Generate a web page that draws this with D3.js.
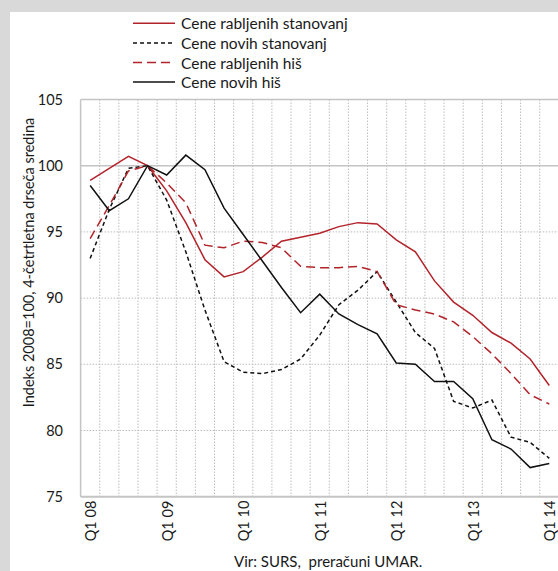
<!DOCTYPE html>
<html>
<head>
<meta charset="utf-8">
<script src="https://cdn.jsdelivr.net/npm/d3@7"></script>
<style>
  html, body { margin: 0; padding: 0; background: #d9d9d9; }
  svg { display: block; }
  text { font-family: Lato, "Open Sans", sans-serif; fill: #1a1a1a; }
</style>
</head>
<body>
<svg id="chart" width="558" height="571"></svg>
<script>
const quarters = [
  "Q1 08","Q2 08","Q3 08","Q4 08",
  "Q1 09","Q2 09","Q3 09","Q4 09",
  "Q1 10","Q2 10","Q3 10","Q4 10",
  "Q1 11","Q2 11","Q3 11","Q4 11",
  "Q1 12","Q2 12","Q3 12","Q4 12",
  "Q1 13","Q2 13","Q3 13","Q4 13",
  "Q1 14"
];
const tickLabels = ["Q1 08","Q1 09","Q1 10","Q1 11","Q1 12","Q1 13","Q1 14"];
const yTicks = [75, 80, 85, 90, 95, 100, 105];

// Cene rabljenih stanovanj (red solid)
const rabljenaStanovanja = [98.9, 99.8, 100.7, 100.0, 98.1, 95.7, 92.9, 91.6, 92.0, 93.1, 94.3, 94.6, 94.9, 95.4, 95.7, 95.6, 94.4, 93.5, 91.3, 89.7, 88.7, 87.4, 86.6, 85.4, 83.4];
// Cene novih stanovanj (black dashed)
const novaStanovanja = [93.0, 96.7, 99.8, 100.0, 97.4, 93.5, 89.1, 85.2, 84.4, 84.3, 84.6, 85.4, 87.2, 89.5, 90.6, 92.0, 89.7, 87.4, 86.2, 82.2, 81.7, 82.3, 79.5, 79.1, 77.9];
// Cene rabljenih hiš (red dashed)
const rabljeneHise = [94.5, 97.0, 99.6, 100.0, 98.7, 97.2, 94.0, 93.8, 94.3, 94.2, 93.8, 92.4, 92.3, 92.3, 92.4, 92.0, 89.5, 89.1, 88.8, 88.2, 87.1, 85.8, 84.3, 82.7, 82.0];
// Cene novih hiš (black solid)
const noveHise = [98.5, 96.6, 97.5, 100.0, 99.3, 100.8, 99.7, 96.8, 94.8, 92.8, 90.8, 88.9, 90.3, 88.8, 88.0, 87.3, 85.1, 85.0, 83.7, 83.7, 82.4, 79.3, 78.6, 77.2, 77.5];

const seriesNames = ["Cene rabljenih stanovanj", "Cene novih stanovanj", "Cene rabljenih hiš", "Cene novih hiš"];

const RED = "#b3232a";
const series = [
  { name: seriesNames[0], values: rabljenaStanovanja, color: RED, dash: null },
  { name: seriesNames[1], values: novaStanovanja, color: "#111", dash: "4,3" },
  { name: seriesNames[2], values: rabljeneHise, color: RED, dash: "9,5" },
  { name: seriesNames[3], values: noveHise, color: "#111", dash: null }
];

const svg = d3.select("#chart");

// white panel
svg.append("rect").attr("x", 10).attr("y", 12).attr("width", 548).attr("height", 559).attr("fill", "#fff");

const pLeft = 80.6, pTop = 99.5, pBottom = 496.7, band = 19.13;
const x = d3.scaleBand().domain(quarters).range([pLeft, pLeft + band * quarters.length]).padding(0);
const y = d3.scaleLinear().domain([75, 105]).range([pBottom, pTop]);
const pRight = pLeft + band * quarters.length;

const grid = svg.append("g");
grid.selectAll("line.v").data(quarters.slice(1)).enter().append("line")
  .attr("x1", d => x(d)).attr("x2", d => x(d))
  .attr("y1", pTop).attr("y2", pBottom)
  .attr("stroke", "#bdbdbd").attr("stroke-width", 1).attr("stroke-dasharray", "1.5,1.5");
grid.selectAll("line.h").data([80, 85, 90, 95]).enter().append("line")
  .attr("x1", pLeft).attr("x2", pRight)
  .attr("y1", d => y(d)).attr("y2", d => y(d))
  .attr("stroke", "#bdbdbd").attr("stroke-width", 1).attr("stroke-dasharray", "1.5,1.5");
grid.selectAll("line.s").data([100, 105]).enter().append("line")
  .attr("x1", pLeft).attr("x2", pRight)
  .attr("y1", d => y(d)).attr("y2", d => y(d))
  .attr("stroke", "#c4c4c4").attr("stroke-width", 1.5);
grid.append("line").attr("x1", pLeft).attr("x2", pLeft).attr("y1", pTop).attr("y2", pBottom)
  .attr("stroke", "#c4c4c4").attr("stroke-width", 1.5);
grid.append("line").attr("x1", pLeft).attr("x2", pRight).attr("y1", pBottom).attr("y2", pBottom)
  .attr("stroke", "#c4c4c4").attr("stroke-width", 2);

// Y axis
const yAxis = d3.axisLeft(y).tickValues(yTicks).tickSize(0).tickPadding(0).tickFormat(d3.format("d"));
const gy = svg.append("g").attr("transform", "translate(63,0)").call(yAxis);
gy.select(".domain").remove();
gy.selectAll("text").attr("font-size", 14.5).attr("font-family", "Lato, sans-serif").attr("fill", "#1a1a1a");

// X axis
const xAxis = d3.axisBottom(x).tickValues(tickLabels).tickSize(0).tickPadding(0);
const gx = svg.append("g").attr("transform", `translate(0,${pBottom})`).call(xAxis);
gx.select(".domain").remove();
gx.selectAll("text")
  .attr("font-size", 14.5)
  .attr("font-family", "Lato, sans-serif")
  .attr("fill", "#1a1a1a")
  .attr("text-anchor", "end")
  .attr("dy", null)
  .attr("y", 0)
  .attr("dominant-baseline", "central")
  .attr("transform", "translate(0.5,4) rotate(-90)")
  .style("white-space", "pre");

// Y axis title
svg.append("text")
  .attr("transform", "translate(34,262.5) rotate(-90)")
  .attr("text-anchor", "middle")
  .attr("font-size", 14.5)
  .text("Indeks 2008=100, 4-četrtletna drseča sredina");

// lines
const line = d3.line().x((d, i) => x(quarters[i]) + x.bandwidth() / 2).y(d => y(d));
svg.append("g").selectAll("path").data(series).enter().append("path")
  .attr("d", d => line(d.values))
  .attr("fill", "none")
  .attr("stroke", d => d.color)
  .attr("stroke-width", 1.5)
  .attr("stroke-dasharray", d => d.dash);

// legend
const legend = svg.append("g");
const rows = legend.selectAll("g").data(series).enter().append("g")
  .attr("transform", (d, i) => `translate(0,${23.3 + i * 19.6})`);
rows.append("line").attr("x1", 133).attr("x2", 175).attr("y1", 0).attr("y2", 0)
  .attr("stroke", d => d.color).attr("stroke-width", 1.5)
  .attr("stroke-dasharray", d => d.dash);
rows.append("text").attr("x", 181).attr("y", 0).attr("dominant-baseline", "central")
  .attr("font-size", 15.5).text(d => d.name);

// source
svg.append("text").attr("x", 234).attr("y", 567)
  .attr("font-size", 15).style("white-space", "pre")
  .text("Vir: SURS,  preračuni UMAR.");
</script>
</body>
</html>
